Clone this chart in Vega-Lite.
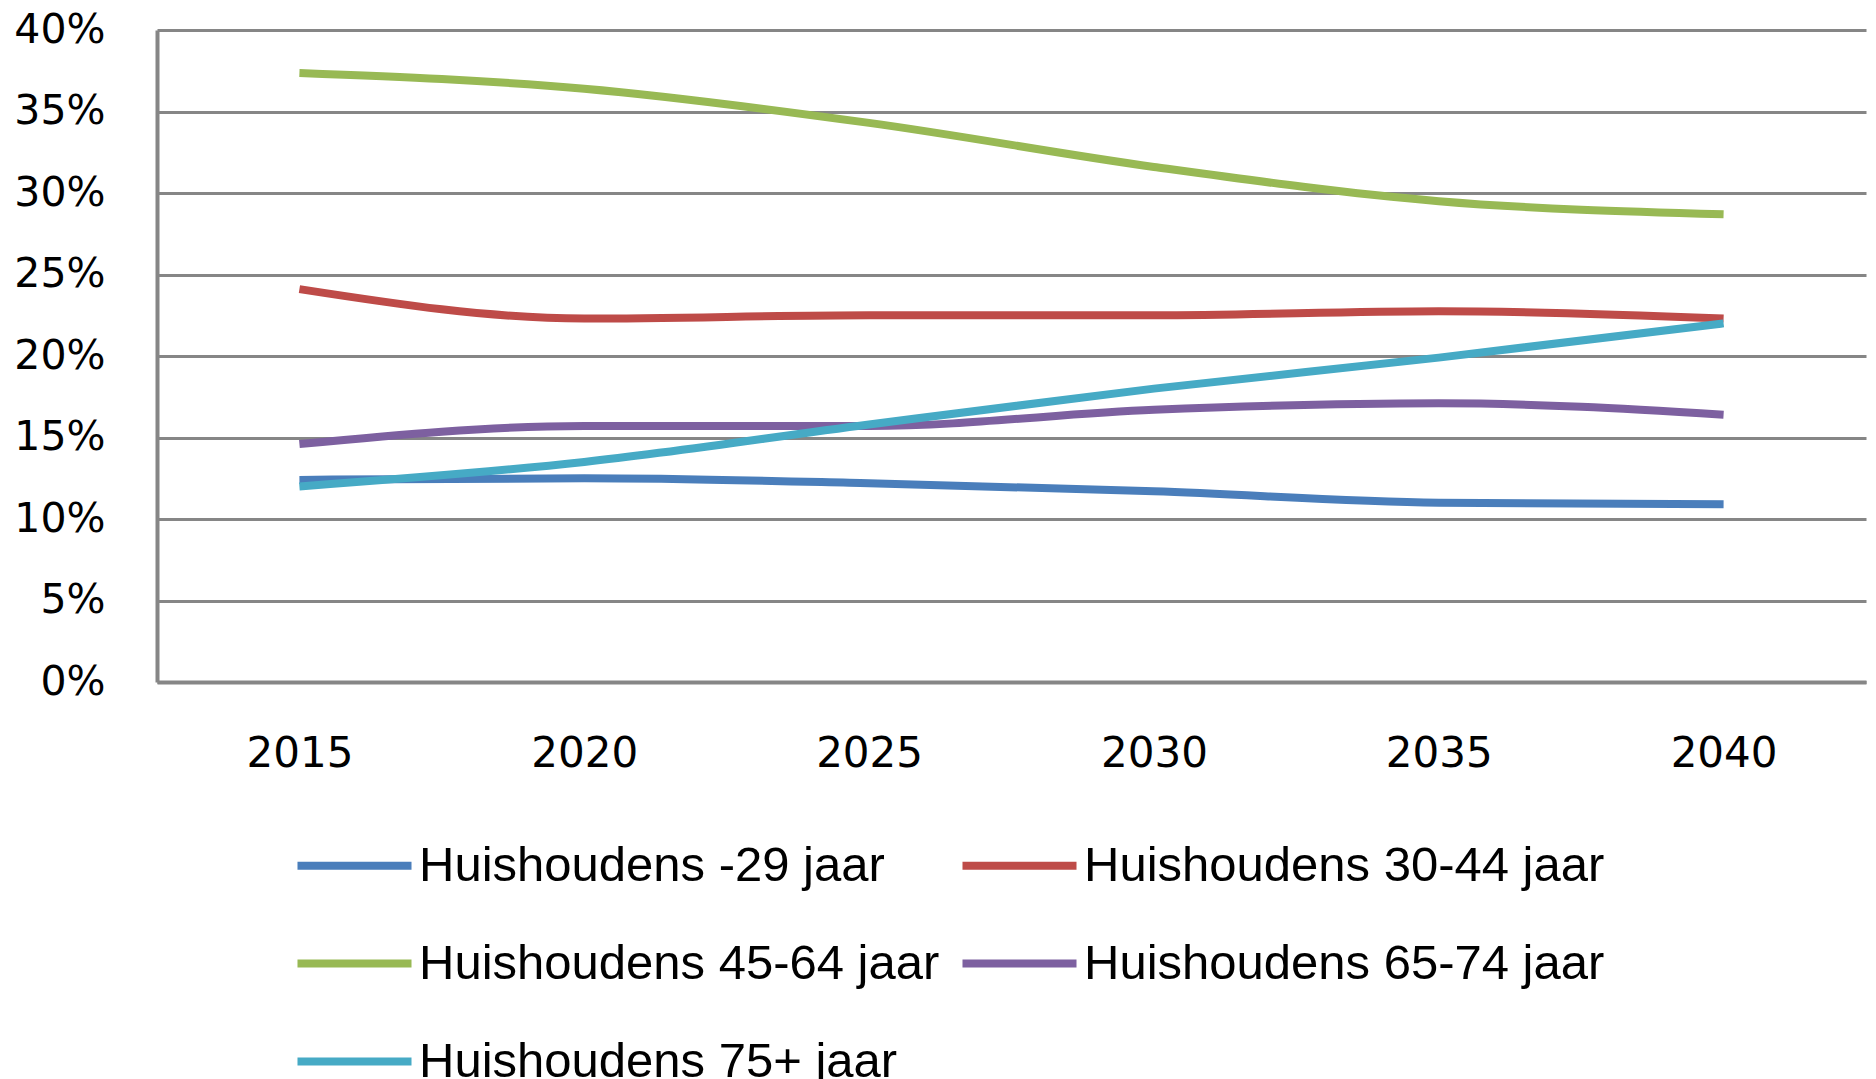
{
  "$schema": "https://vega.github.io/schema/vega-lite/v6.json",
  "width": 1709,
  "height": 652,
  "autosize": {"type": "none"},
  "padding": {"left": 157, "top": 30, "right": 10, "bottom": 397},
  "background": "white",
  "config": {"view": {"stroke": null}},
  "data": {
    "values": [
      {"jaar": "2015", "groep": "Huishoudens -29 jaar", "aandeel": 0.124},
      {"jaar": "2020", "groep": "Huishoudens -29 jaar", "aandeel": 0.125},
      {"jaar": "2025", "groep": "Huishoudens -29 jaar", "aandeel": 0.122},
      {"jaar": "2030", "groep": "Huishoudens -29 jaar", "aandeel": 0.117},
      {"jaar": "2035", "groep": "Huishoudens -29 jaar", "aandeel": 0.110},
      {"jaar": "2040", "groep": "Huishoudens -29 jaar", "aandeel": 0.109},
      {"jaar": "2015", "groep": "Huishoudens 30-44 jaar", "aandeel": 0.241},
      {"jaar": "2020", "groep": "Huishoudens 30-44 jaar", "aandeel": 0.223},
      {"jaar": "2025", "groep": "Huishoudens 30-44 jaar", "aandeel": 0.225},
      {"jaar": "2030", "groep": "Huishoudens 30-44 jaar", "aandeel": 0.225},
      {"jaar": "2035", "groep": "Huishoudens 30-44 jaar", "aandeel": 0.2275},
      {"jaar": "2040", "groep": "Huishoudens 30-44 jaar", "aandeel": 0.223},
      {"jaar": "2015", "groep": "Huishoudens 45-64 jaar", "aandeel": 0.3736},
      {"jaar": "2020", "groep": "Huishoudens 45-64 jaar", "aandeel": 0.364},
      {"jaar": "2025", "groep": "Huishoudens 45-64 jaar", "aandeel": 0.343},
      {"jaar": "2030", "groep": "Huishoudens 45-64 jaar", "aandeel": 0.316},
      {"jaar": "2035", "groep": "Huishoudens 45-64 jaar", "aandeel": 0.295},
      {"jaar": "2040", "groep": "Huishoudens 45-64 jaar", "aandeel": 0.287},
      {"jaar": "2015", "groep": "Huishoudens 65-74 jaar", "aandeel": 0.146},
      {"jaar": "2020", "groep": "Huishoudens 65-74 jaar", "aandeel": 0.157},
      {"jaar": "2025", "groep": "Huishoudens 65-74 jaar", "aandeel": 0.157},
      {"jaar": "2030", "groep": "Huishoudens 65-74 jaar", "aandeel": 0.167},
      {"jaar": "2035", "groep": "Huishoudens 65-74 jaar", "aandeel": 0.171},
      {"jaar": "2040", "groep": "Huishoudens 65-74 jaar", "aandeel": 0.164},
      {"jaar": "2015", "groep": "Huishoudens 75+ jaar", "aandeel": 0.120},
      {"jaar": "2020", "groep": "Huishoudens 75+ jaar", "aandeel": 0.135},
      {"jaar": "2025", "groep": "Huishoudens 75+ jaar", "aandeel": 0.158},
      {"jaar": "2030", "groep": "Huishoudens 75+ jaar", "aandeel": 0.180},
      {"jaar": "2035", "groep": "Huishoudens 75+ jaar", "aandeel": 0.199},
      {"jaar": "2040", "groep": "Huishoudens 75+ jaar", "aandeel": 0.220}
    ]
  },
  "mark": {"type": "line", "interpolate": "monotone", "strokeWidth": 8, "strokeCap": "butt"},
  "encoding": {
    "x": {
      "field": "jaar",
      "type": "ordinal",
      "scale": {"type": "point", "padding": 0.5},
      "axis": {
        "title": null,
        "labelAngle": 0,
        "labelFont": "DejaVu Sans",
        "labelFontSize": 42,
        "labelColor": "#000000",
        "labelPadding": 51,
        "ticks": false,
        "domain": true,
        "domainColor": "#868686",
        "domainWidth": 4,
        "grid": false
      }
    },
    "y": {
      "field": "aandeel",
      "type": "quantitative",
      "scale": {"domain": [0, 0.4], "nice": false},
      "axis": {
        "title": null,
        "values": [0, 0.05, 0.1, 0.15, 0.2, 0.25, 0.3, 0.35, 0.4],
        "format": ".0%",
        "labelFont": "DejaVu Sans",
        "labelFontSize": 41,
        "labelColor": "#000000",
        "labelPadding": 52,
        "ticks": false,
        "domain": true,
        "domainColor": "#868686",
        "domainWidth": 4,
        "grid": true,
        "gridColor": "#868686",
        "gridWidth": 3,
        "gridOpacity": 1
      }
    },
    "color": {
      "field": "groep",
      "type": "nominal",
      "scale": {
        "domain": ["Huishoudens -29 jaar", "Huishoudens 30-44 jaar", "Huishoudens 45-64 jaar", "Huishoudens 65-74 jaar", "Huishoudens 75+ jaar"],
        "range": ["#4A7EBB", "#BE4B48", "#98B954", "#7D60A0", "#46AAC5"]
      },
      "legend": {
        "title": null,
        "orient": "none",
        "direction": "horizontal",
        "legendX": 136,
        "legendY": 774,
        "columns": 2,
        "symbolType": "stroke",
        "symbolSize": 13000,
        "symbolStrokeWidth": 8,
        "labelFont": "Liberation Sans",
        "labelFontSize": 49,
        "labelColor": "#000000",
        "labelOffset": 3,
        "labelLimit": 0,
        "columnPadding": 6,
        "rowPadding": 11
      }
    }
  }
}
